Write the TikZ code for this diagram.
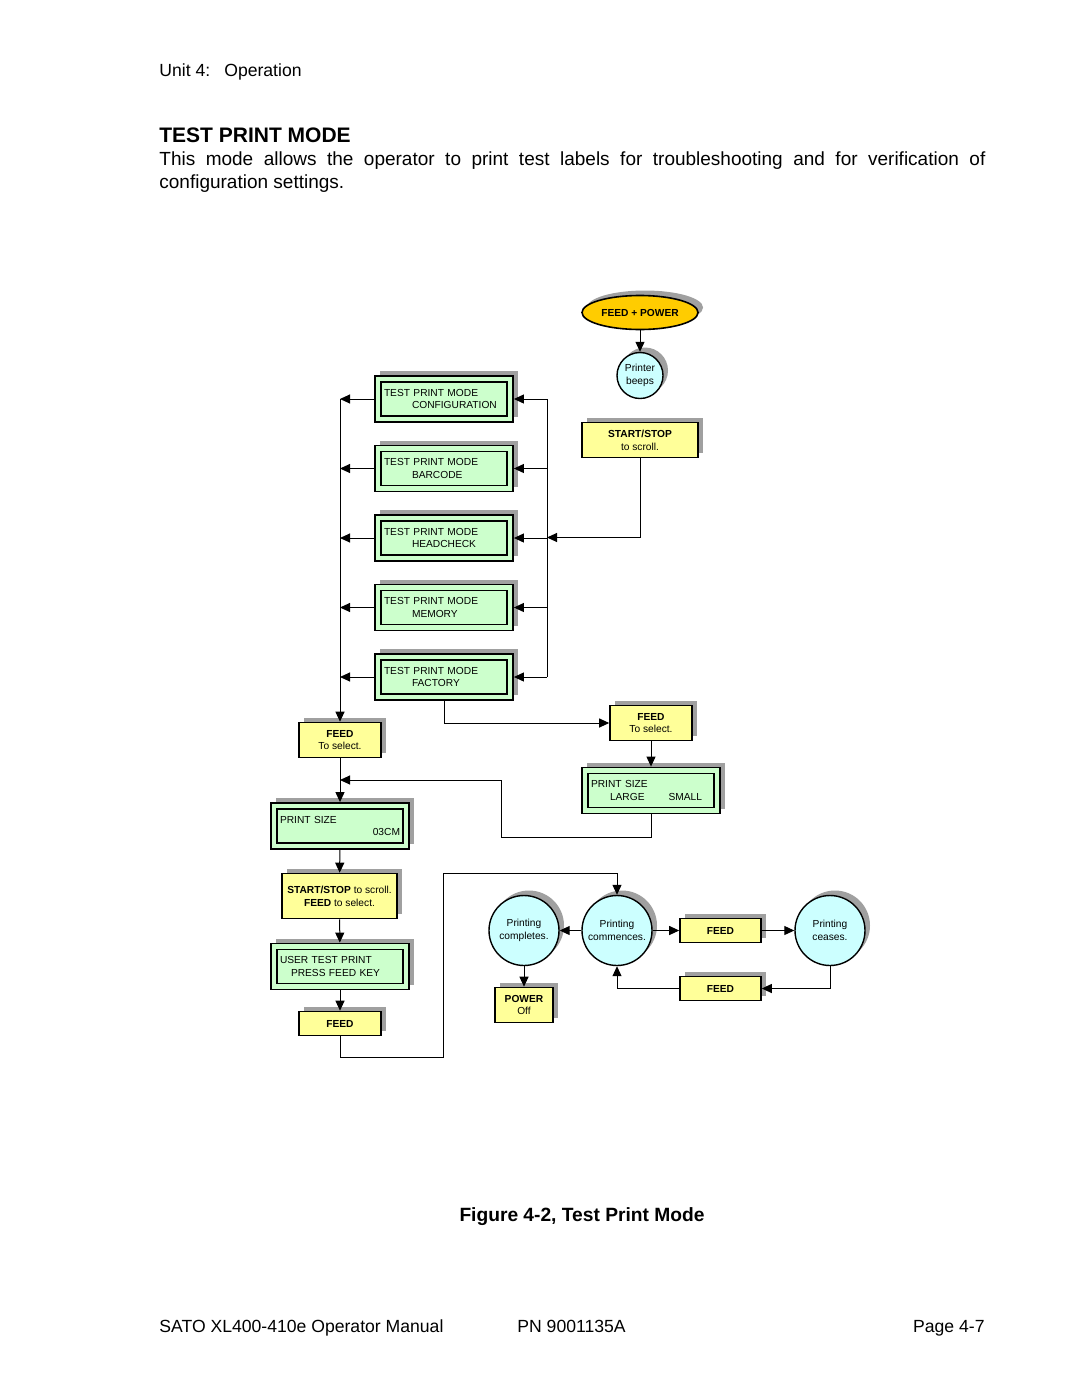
\documentclass[tikz,border=0pt]{standalone}
\usepackage{fontspec}
\setmainfont{Liberation Sans}
\usetikzlibrary{positioning,calc,arrows.meta,shapes.geometric,shadows}

\definecolor{keyyellow}{HTML}{FFFF99}
\definecolor{lcdgreen}{HTML}{CCFFCC}
\definecolor{stepcyan}{HTML}{CCFFFF}
\definecolor{startgold}{HTML}{FFCC00}
\definecolor{shadowgray}{HTML}{A0A0A0}

\newcommand{\dfont}{\fontsize{5.1pt}{6.4pt}\selectfont}
\newcommand{\pfont}{\fontsize{8.8pt}{11.5pt}\selectfont}

\begin{document}
\begin{tikzpicture}[x=0.5pt, y=-0.5pt,
		% grey shadow, up and to the right
		boxshadow/.style={
			drop shadow={shadow xshift=2.5pt, shadow yshift=2.5pt, fill=shadowgray, opacity=1}
		},
		% yellow key box
		keybox/.style={
			rectangle, draw=black, line width=0.8pt, fill=keyyellow, boxshadow,
			inner sep=1pt, align=center, font=\dfont
		},
		% green display box, double frame
		lcdbox/.style={
			rectangle, draw=black, line width=0.9pt, fill=lcdgreen, boxshadow,
			minimum width=69pt, minimum height=23pt, text width=60pt, inner xsep=4.5pt,
			align=left, font=\dfont,
			path picture={
				\draw[line width=0.9pt] ([shift={(3pt,3pt)}]path picture bounding box.south west)
				rectangle ([shift={(-3pt,-3pt)}]path picture bounding box.north east);
			}
		},
		% cyan state circle
		stepcircle/.style={
			circle, draw=black, line width=0.7pt, fill=stepcyan, boxshadow,
			inner sep=0pt, align=center, font=\dfont
		},
		% page text
		pagetext/.style={anchor=base west, inner sep=0pt, font=\pfont},
		% arrows and plain lines
		flow/.style={-{Triangle[length=5pt,width=4.5pt]}, line width=0.5pt},
		wire/.style={line width=0.5pt}
	]
	
	% --- page ---
	\fill[white] (0,0) rectangle (1080,1397);
	\node[pagetext] (unit) at (159,76) {Unit 4:\hspace{0.8em}Operation};
	\node[pagetext, font=\bfseries\fontsize{10.5pt}{12pt}\selectfont] (title) at (159,142) {TEST PRINT MODE};
	\node[pagetext, text width=413pt, align=justify, font=\fontsize{9.5pt}{11.5pt}\selectfont] (intro) at (159,165)
	{This mode allows the operator to print test labels for troubleshooting and for verification of\linebreak configuration settings.};
	
	% --- start ---
	\node[ellipse, draw=black, line width=0.8pt, fill=startgold, boxshadow, minimum width=58pt, minimum height=17pt,
	inner sep=0pt, font=\dfont\bfseries] (fp) at (640,312.5) {FEED + POWER};
	\node[stepcircle, minimum size=23pt] (beeps) at (640,375.5) {Printer\\beeps};
	\node[keybox, minimum width=58pt, minimum height=17.5pt] (scroll) at (640,440) {\textbf{START/STOP}\\to scroll.};
	
	% --- test print mode menu ---
	\foreach \mode [count=\i] in {CONFIGURATION, BARCODE, HEADCHECK, MEMORY, FACTORY} {
		\node[lcdbox] (tpm\i) at (444,329.5+69.5*\i) {TEST PRINT MODE\\\hspace*{14pt}\mode};
	}
	\coordinate (lbus) at (340,0);
	\coordinate (rbus) at (547,0);
	\coordinate (rjoin) at (547,537.5);
	
	% --- selection ---
	\node[keybox, minimum width=41pt, minimum height=17.5pt] (feedL) at (340,740) {\textbf{FEED}\\To select.};
	\node[keybox, minimum width=41pt, minimum height=17.5pt] (feedR) at (651,723) {\textbf{FEED}\\To select.};
	\node[lcdbox] (psLS) at (651,790.5) {PRINT SIZE\\\hspace*{9.5pt}LARGE\hfill SMALL\hspace*{4.5pt}\null};
	\node[lcdbox] (ps03) at (340,826) {PRINT SIZE\\\hspace*{\fill}03CM};
	\coordinate (retx) at (501,837);
	\coordinate (retin) at (340,780);
	
	% --- user test print ---
	\node[keybox, minimum width=57.5pt, minimum height=22.5pt] (ssf) at (339.5,896)
	{\textbf{START/STOP} to scroll.\\\textbf{FEED} to select.};
	\node[lcdbox] (utp) at (340,966.5) {USER TEST PRINT\\\hspace*{5.5pt}PRESS FEED KEY};
	\node[keybox, minimum width=41pt, minimum height=12pt, font=\dfont\bfseries] (feedB) at (340,1023.5) {FEED};
	\coordinate (loopa) at (443,1057);
	\coordinate (loopb) at (617,873);
	
	% --- printing ---
	\node[stepcircle, minimum size=35pt] (completes) at (524,930.5) {Printing\\completes.};
	\node[stepcircle, minimum size=35pt] (commences) at (617,930.5) {Printing\\commences.};
	\node[stepcircle, minimum size=35pt] (ceases) at (830,930.5) {Printing\\ceases.};
	\node[keybox, minimum width=40.5pt, minimum height=12pt, font=\dfont\bfseries] (feedU) at (720.5,930.5) {FEED};
	\node[keybox, minimum width=40.5pt, minimum height=12pt, font=\dfont\bfseries] (feedD) at (720.5,988.5) {FEED};
	\node[keybox, minimum width=29pt, minimum height=17.5pt] (poweroff) at (524,1005) {\textbf{POWER}\\Off};
	
	% --- connectors ---
	\draw[flow] (fp) -- (beeps);
	\draw[flow] (scroll.south) |- (rjoin);
	\draw[wire] (tpm1.east -| rbus) -- (tpm5.east -| rbus);
	\draw[flow] (tpm1.west -| lbus) -- (feedL.north);
	\foreach \i in {1,...,5} {
		\draw[flow] (tpm\i.east -| rbus) -- (tpm\i.east);
		\draw[flow] (tpm\i.west) -- (tpm\i.west -| lbus);
	}
	\draw[flow] (tpm5.south) |- (feedR.west);
	\draw[flow] (feedR) -- (psLS);
	\draw[flow] (psLS.south) |- (retx) |- (retin);
	\draw[flow] (feedL) -- (ps03);
	\draw[flow] (ps03) -- (ssf);
	\draw[flow] (ssf) -- (utp);
	\draw[flow] (utp) -- (feedB);
	\draw[flow] (feedB.south) |- (loopa) |- (loopb) -- (commences.north);
	\draw[flow] (commences) -- (completes);
	\draw[flow] (commences) -- (feedU);
	\draw[flow] (feedU) -- (ceases);
	\draw[flow] (ceases.south) |- (feedD.east);
	\draw[flow] (feedD.west) -| (commences.south);
	\draw[flow] (completes) -- (poweroff);
	
	% --- caption and footer ---
	\node[anchor=base, inner sep=0pt, font=\bfseries\fontsize{9.6pt}{12pt}\selectfont] (caption) at (582,1221) {Figure 4-2, Test Print Mode};
	\node[pagetext] (manual) at (159,1332) {SATO XL400-410e Operator Manual};
	\node[pagetext] (pn) at (517,1332) {PN 9001135A};
	\node[pagetext, anchor=base east] (page) at (985,1332) {Page 4-7};
	
\end{tikzpicture}
\end{document}
